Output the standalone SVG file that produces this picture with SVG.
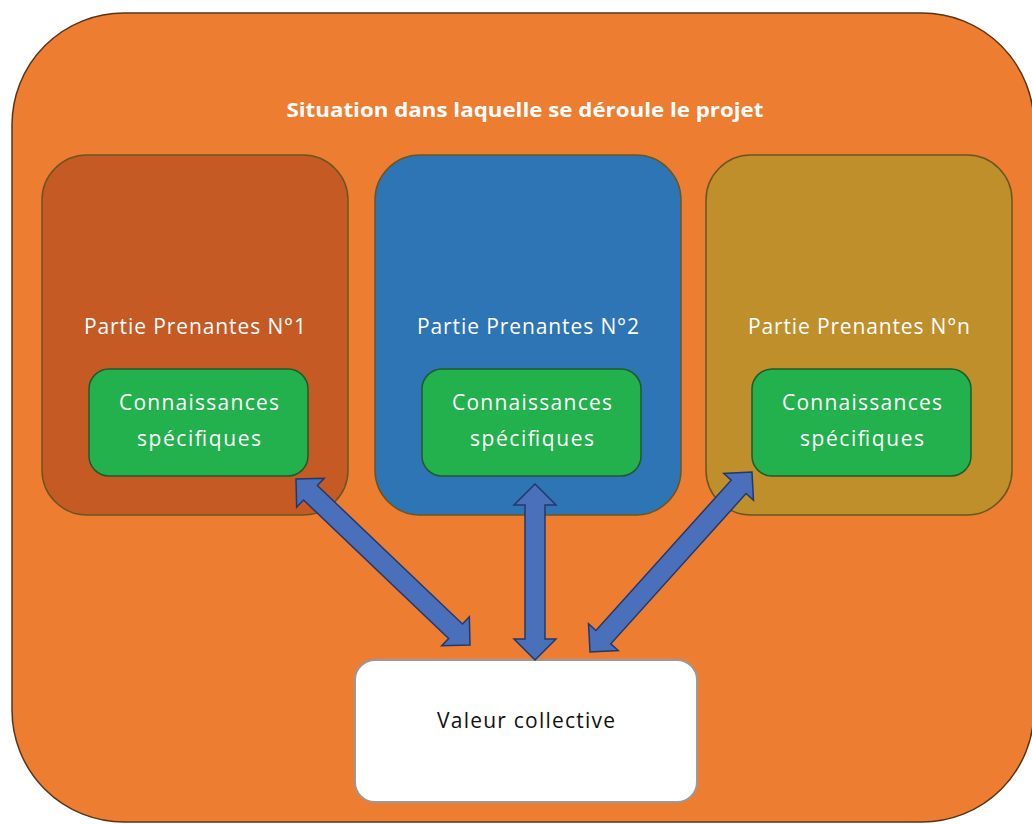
<svg xmlns="http://www.w3.org/2000/svg" width="1032" height="824" viewBox="0 0 1032 824">
<style>
.t{font-family:"Open Sans","Liberation Sans",sans-serif;fill:#ffffff;text-anchor:middle}
.title{font-size:19px;font-weight:bold}
.lbl{font-size:21px}
.part{stroke:#6b5520;stroke-width:1.5}
.green{fill:#22b14c;stroke:#1f5a2e;stroke-width:1.5}
.arrow{fill:#4a6fbb;stroke:#23386a;stroke-width:1.5;stroke-linejoin:miter}
.dark{font-family:"Open Sans","Liberation Sans",sans-serif;fill:#111111;text-anchor:middle;font-size:21px}
</style>
<rect width="1032" height="824" fill="#ffffff"/>
<g id="situation">
<rect x="12" y="13" width="1022" height="809" rx="112" ry="112" fill="#ed7d31" stroke="#5a3416" stroke-width="1.5"/>
<text class="t title" x="525" y="117" textLength="477" lengthAdjust="spacingAndGlyphs">Situation dans laquelle se déroule le projet</text>
</g>
<g id="partie1">
<rect class="part" x="42" y="155" width="306" height="360" rx="45" ry="45" fill="#c55a24"/>
<text class="t lbl" x="195" y="334" textLength="222" lengthAdjust="spacing">Partie Prenantes N°1</text>
</g>
<g id="partie2">
<rect class="part" x="375" y="155" width="306" height="360" rx="45" ry="45" fill="#2e75b6"/>
<text class="t lbl" x="528" y="334" textLength="222" lengthAdjust="spacing">Partie Prenantes N°2</text>
</g>
<g id="partien">
<rect class="part" x="706" y="155" width="306" height="360" rx="45" ry="45" fill="#bf8f2c"/>
<text class="t lbl" x="859" y="334" textLength="222" lengthAdjust="spacing">Partie Prenantes N°n</text>
</g>
<g id="connaissances1">
<rect class="green" x="89" y="369" width="219" height="107" rx="20" ry="20"/>
<text class="t lbl" x="199" y="410" textLength="160" lengthAdjust="spacing">Connaissances</text>
<text class="t lbl" x="199" y="446" textLength="124" lengthAdjust="spacing">spécifiques</text>
</g>
<g id="connaissances2">
<rect class="green" x="422" y="369" width="219" height="107" rx="20" ry="20"/>
<text class="t lbl" x="532" y="410" textLength="160" lengthAdjust="spacing">Connaissances</text>
<text class="t lbl" x="532" y="446" textLength="124" lengthAdjust="spacing">spécifiques</text>
</g>
<g id="connaissancesn">
<rect class="green" x="752" y="369" width="219" height="107" rx="20" ry="20"/>
<text class="t lbl" x="862" y="410" textLength="160" lengthAdjust="spacing">Connaissances</text>
<text class="t lbl" x="862" y="446" textLength="124" lengthAdjust="spacing">spécifiques</text>
</g>
<g id="valeur">
<rect x="355" y="660" width="342" height="142" rx="20" ry="20" fill="#ffffff" stroke="#9a9a9a" stroke-width="2"/>
<text class="dark" x="526" y="728" textLength="178" lengthAdjust="spacing">Valeur collective</text>
</g>
<g id="connectors">
<polygon class="arrow" points="296,479 296.66,507.28 303.56,500.04 448.62,638.42 441.72,645.66 470,645 469.34,616.72 462.44,623.96 317.38,485.58 324.28,478.34"/>
<polygon class="arrow" points="535,484 556,505 545,505 545,639 556,639 535,660 514,639 525,639 525,505 514,505"/>
<polygon class="arrow" points="752,472 723.76,473.48 731.19,480.17 595.95,630.45 588.52,623.76 590,652 618.24,650.52 610.81,643.83 746.05,493.55 753.48,500.24"/>
</g>
</svg>
